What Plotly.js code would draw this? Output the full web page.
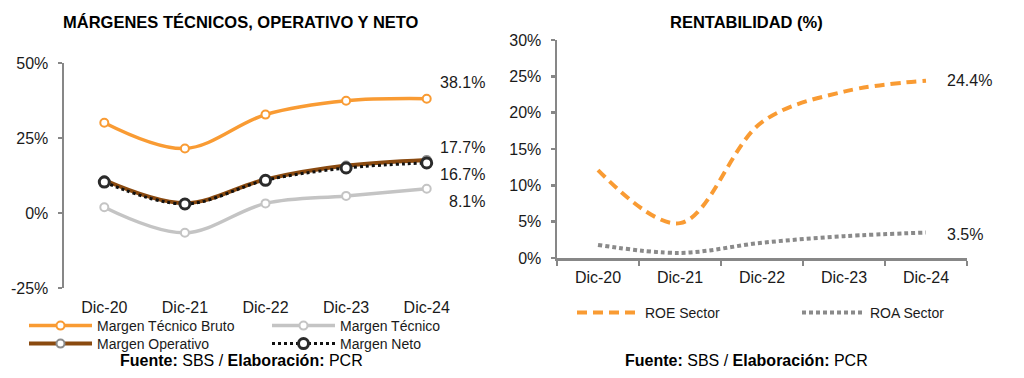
<!DOCTYPE html>
<html>
<head>
<meta charset="utf-8">
<script src="https://cdn.plot.ly/plotly-3.0.1.min.js"></script>
<style>html,body{margin:0;padding:0;background:#fff;}#chart{width:1024px;height:378px;}</style>
</head>
<body>
<div id="chart"></div>
<script>
var categories = ['Dic-20', 'Dic-21', 'Dic-22', 'Dic-23', 'Dic-24'];
var margenTecnicoBruto = [30.1, 21.5, 32.8, 37.4, 38.1];
var margenTecnico = [1.9, -6.6, 3.2, 5.7, 8.1];
var margenOperativo = [11.0, 3.3, 11.2, 15.8, 17.7];
var margenNeto = [10.3, 3.0, 10.9, 15.0, 16.7];
var roeSector = [12.1, 4.8, 18.7, 22.9, 24.4];
var roaSector = [1.8, 0.7, 2.1, 3.0, 3.5];
var leftTicks = [-25, 0, 25, 50];
var rightTicks = [0, 5, 10, 15, 20, 25, 30];

var FONT = 'Liberation Sans, Arial, sans-serif';
var TXT = '#1a1a1a';
var AX = '#878787';
var last = categories.length - 1;

var traces = [
  {x: categories, y: margenTecnicoBruto, name: 'Margen Técnico Bruto', type: 'scatter', mode: 'lines+markers',
   line: {color: '#F99B33', width: 3.5, shape: 'spline', smoothing: 1},
   marker: {symbol: 'circle', size: 8, color: '#ffffff', line: {color: '#F99B33', width: 2}},
   xaxis: 'x', yaxis: 'y', legend: 'legend'},
  {x: categories, y: margenTecnico, name: 'Margen Técnico', type: 'scatter', mode: 'lines+markers',
   line: {color: '#C4C4C4', width: 3.5, shape: 'spline', smoothing: 1},
   marker: {symbol: 'circle', size: 8, color: '#ffffff', line: {color: '#C4C4C4', width: 2}},
   xaxis: 'x', yaxis: 'y', legend: 'legend3'},
  {x: categories, y: margenOperativo, name: 'Margen Operativo', type: 'scatter', mode: 'lines+markers',
   line: {color: '#8A4A10', width: 4, shape: 'spline', smoothing: 1},
   marker: {symbol: 'circle', size: 8, color: '#ffffff', line: {color: '#8C8C8C', width: 2}},
   xaxis: 'x', yaxis: 'y', legend: 'legend5'},
  {x: categories, y: margenNeto, name: 'Margen Neto', type: 'scatter', mode: 'lines+markers',
   line: {color: '#111111', width: 3, dash: 'dot', shape: 'spline', smoothing: 1},
   marker: {symbol: 'circle', size: 10, color: '#ffffff', line: {color: '#2b2b2b', width: 3}},
   xaxis: 'x', yaxis: 'y', legend: 'legend6'},
  {x: categories, y: roeSector, name: 'ROE Sector', type: 'scatter', mode: 'lines',
   line: {color: '#F99B33', width: 4, dash: '10px,6px', shape: 'spline', smoothing: 1},
   xaxis: 'x2', yaxis: 'y2', legend: 'legend2'},
  {x: categories, y: roaSector, name: 'ROA Sector', type: 'scatter', mode: 'lines',
   line: {color: '#8A8A8A', width: 4, dash: '4px,3px', shape: 'spline', smoothing: 1},
   xaxis: 'x2', yaxis: 'y2', legend: 'legend4'}
];

function pct(v) { return v.toFixed(1) + '%'; }

var annotations = [
  {xref: 'paper', yref: 'paper', x: 241 / 1024, y: 1 - 22 / 378, text: '<b>MÁRGENES TÉCNICOS, OPERATIVO Y NETO</b>',
   showarrow: false, font: {family: FONT, size: 16.5, color: '#000'}, xanchor: 'center', yanchor: 'middle'},
  {xref: 'paper', yref: 'paper', x: 746 / 1024, y: 1 - 22 / 378, text: '<b>RENTABILIDAD (%)</b>',
   showarrow: false, font: {family: FONT, size: 16.5, color: '#000'}, xanchor: 'center', yanchor: 'middle'},
  {xref: 'paper', yref: 'paper', x: 241 / 1024, y: 1 - 360 / 378, text: '<b>Fuente:</b> SBS / <b>Elaboración:</b> PCR',
   showarrow: false, font: {family: FONT, size: 16, color: '#000'}, xanchor: 'center', yanchor: 'middle'},
  {xref: 'paper', yref: 'paper', x: 746 / 1024, y: 1 - 360 / 378, text: '<b>Fuente:</b> SBS / <b>Elaboración:</b> PCR',
   showarrow: false, font: {family: FONT, size: 16, color: '#000'}, xanchor: 'center', yanchor: 'middle'},
  {xref: 'x', yref: 'y', x: categories[last], y: margenTecnicoBruto[last], text: pct(margenTecnicoBruto[last]),
   showarrow: false, xanchor: 'right', yanchor: 'middle', xshift: 60, yshift: 16, font: {family: FONT, size: 16, color: TXT}},
  {xref: 'x', yref: 'y', x: categories[last], y: margenOperativo[last], text: pct(margenOperativo[last]),
   showarrow: false, xanchor: 'right', yanchor: 'middle', xshift: 60, yshift: 12, font: {family: FONT, size: 16, color: TXT}},
  {xref: 'x', yref: 'y', x: categories[last], y: margenNeto[last], text: pct(margenNeto[last]),
   showarrow: false, xanchor: 'right', yanchor: 'middle', xshift: 60, yshift: -12, font: {family: FONT, size: 16, color: TXT}},
  {xref: 'x', yref: 'y', x: categories[last], y: margenTecnico[last], text: pct(margenTecnico[last]),
   showarrow: false, xanchor: 'right', yanchor: 'middle', xshift: 60, yshift: -13, font: {family: FONT, size: 16, color: TXT}},
  {xref: 'x2', yref: 'y2', x: categories[last], y: roeSector[last], text: pct(roeSector[last]),
   showarrow: false, xanchor: 'left', yanchor: 'middle', xshift: 19, yshift: 0, font: {family: FONT, size: 16, color: TXT}},
  {xref: 'x2', yref: 'y2', x: categories[last], y: roaSector[last], text: pct(roaSector[last]),
   showarrow: false, xanchor: 'left', yanchor: 'middle', xshift: 19, yshift: -2, font: {family: FONT, size: 16, color: TXT}}
];

var leftDomY = [(378 - 288) / 378, (378 - 63) / 378];
var zeroPos = leftDomY[0] + (leftDomY[1] - leftDomY[0]) * (0 - leftTicks[0]) / (leftTicks[leftTicks.length - 1] - leftTicks[0]);

function legendAt(px, py) {
  return {
    orientation: 'v', x: px / 1024, y: 1 - py / 378, xanchor: 'left', yanchor: 'top',
    itemwidth: 63, font: {family: FONT, size: 14, color: TXT},
    bgcolor: 'rgba(0,0,0,0)', borderwidth: 0, tracegroupgap: 0, traceorder: 'normal'
  };
}

var layout = {
  width: 1024, height: 378,
  margin: {l: 0, r: 0, t: 0, b: 0, autoexpand: false},
  paper_bgcolor: '#fff', plot_bgcolor: 'rgba(0,0,0,0)',
  font: {family: FONT, size: 16, color: TXT},
  showlegend: true,
  xaxis: {
    domain: [64 / 1024, 467 / 1024], anchor: 'y', type: 'category',
    categoryorder: 'array', categoryarray: categories, range: [-0.5, 4.5],
    showline: false, ticks: '', showgrid: false, zeroline: false, automargin: false,
    tickfont: {family: FONT, size: 16, color: TXT}, ticklabelstandoff: 8
  },
  xaxis3: {
    overlaying: 'x', anchor: 'free', position: zeroPos, type: 'category',
    categoryorder: 'array', categoryarray: categories, range: [-0.5, 4.5],
    showline: true, linecolor: AX, linewidth: 2.5, ticks: 'outside', tickson: 'boundaries',
    ticklen: 5, tickwidth: 2.5, tickcolor: AX, showticklabels: false, showgrid: false, zeroline: false
  },
  yaxis: {
    domain: leftDomY, anchor: 'x', range: [leftTicks[0], leftTicks[leftTicks.length - 1]],
    tickvals: leftTicks, ticktext: leftTicks.map(function (v) { return v + '%'; }),
    showline: true, linecolor: AX, linewidth: 2.5, ticks: 'outside', ticklen: 4, tickwidth: 2.5, tickcolor: AX,
    showgrid: false, zeroline: false, automargin: false, tickfont: {family: FONT, size: 16, color: TXT}, ticklabelstandoff: 6
  },
  xaxis2: {
    domain: [557 / 1024, 967 / 1024], anchor: 'y2', type: 'category',
    categoryorder: 'array', categoryarray: categories, range: [-0.5, 4.5],
    showline: true, linecolor: AX, linewidth: 2.5, ticks: 'outside', tickson: 'boundaries',
    ticklen: 5, tickwidth: 2.5, tickcolor: AX, showgrid: false, zeroline: false, automargin: false,
    tickfont: {family: FONT, size: 16, color: TXT}, ticklabelstandoff: 3
  },
  yaxis2: {
    domain: [(378 - 258) / 378, (378 - 40) / 378], anchor: 'x2', range: [rightTicks[0], rightTicks[rightTicks.length - 1]],
    tickvals: rightTicks, ticktext: rightTicks.map(function (v) { return v + '%'; }),
    showline: true, linecolor: AX, linewidth: 2.5, ticks: 'outside', ticklen: 4, tickwidth: 2.5, tickcolor: AX,
    showgrid: false, zeroline: false, automargin: false, tickfont: {family: FONT, size: 16, color: TXT}, ticklabelstandoff: 6
  },
  legend: legendAt(24, 310),
  legend3: legendAt(267, 310),
  legend5: legendAt(24, 328),
  legend6: legendAt(267, 328),
  legend2: legendAt(572, 297),
  legend4: legendAt(797, 297),
  annotations: annotations
};

Plotly.newPlot('chart', traces, layout, {displayModeBar: false, staticPlot: true});
</script>
</body>
</html>
